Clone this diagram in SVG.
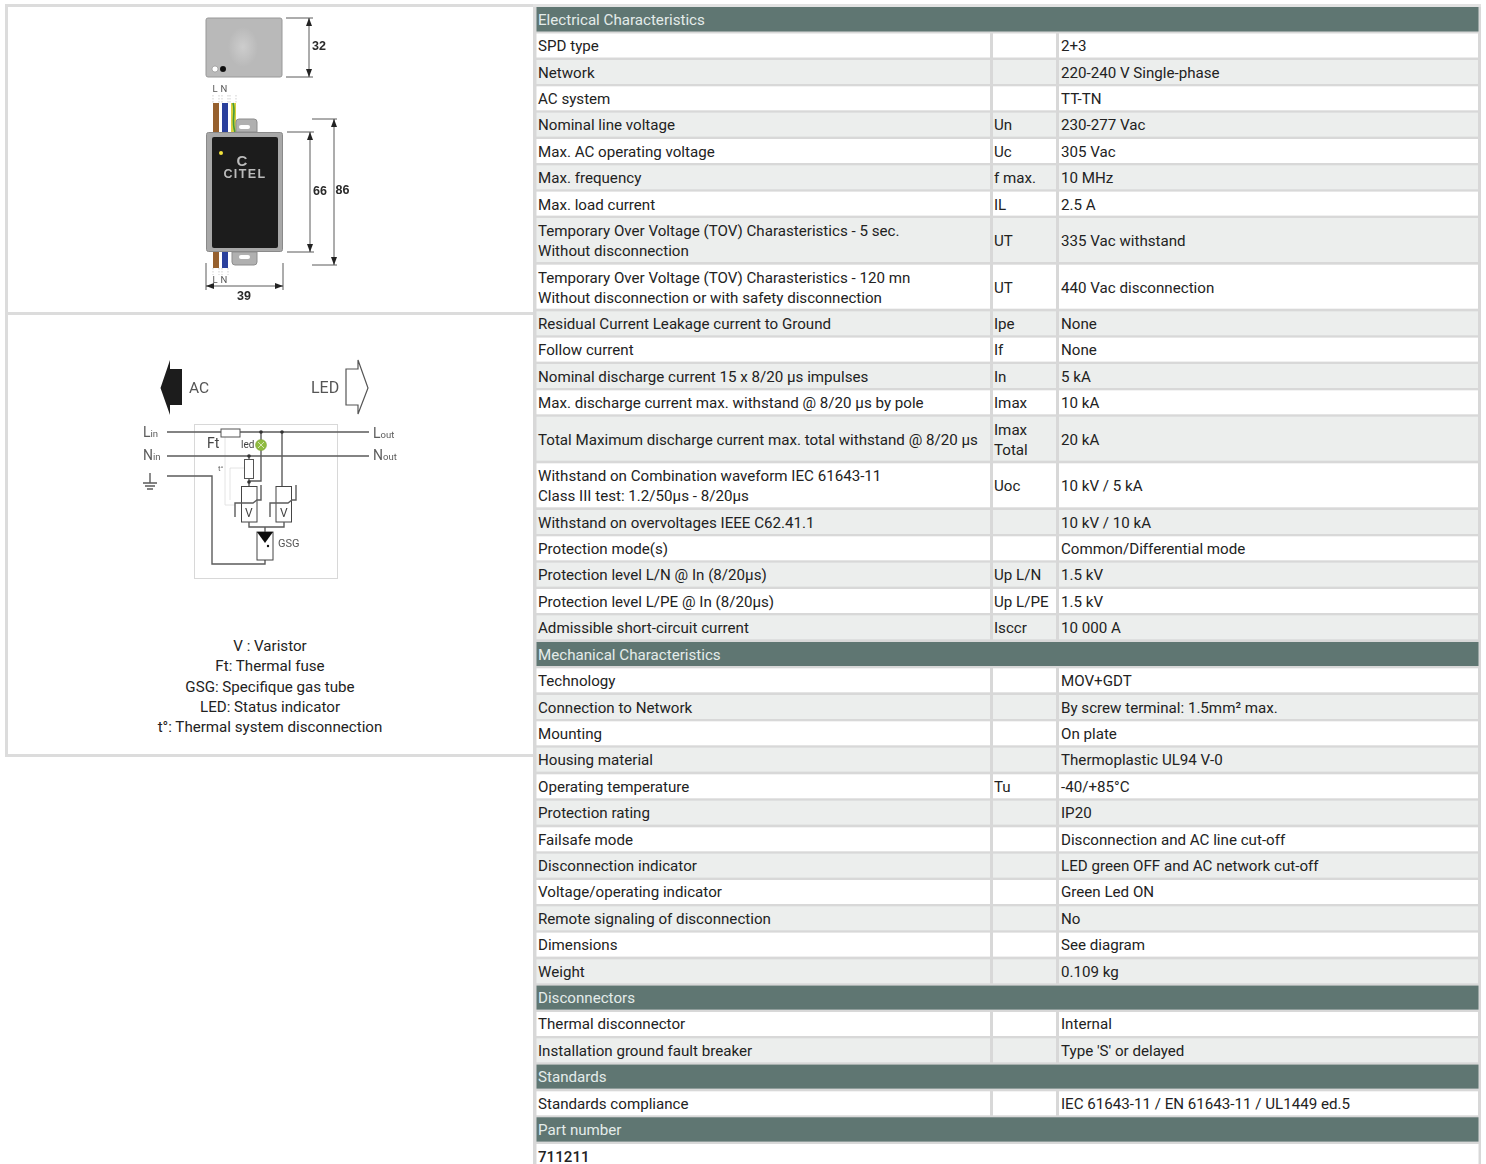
<svg xmlns="http://www.w3.org/2000/svg" width="1486" height="1164" viewBox="0 0 1486 1164">
<style>
text{font-family:Roboto,"Liberation Sans",sans-serif;font-size:15.14px;fill:#222}
.h{fill:#5f7672}.w{fill:#fff}.g{fill:#eceeed}
.ht{fill:#e4ecea}
.dim{font-family:"Liberation Sans",Arial,sans-serif;font-weight:700;font-size:12.5px;fill:#2a2a2a;text-anchor:middle}
.dl{stroke:#333;stroke-width:.8;fill:none}
.s{stroke:#5c5c5c;stroke-width:1.4;fill:none}
.f{fill:#333}
.lbl{font-size:14px;fill:#5c5c5c}
.sub{font-size:9.5px;fill:#5c5c5c}
.wl{font-size:9.5px;fill:#555;text-anchor:middle}
.lg{text-anchor:middle}
</style>
<defs>
<filter id="soft" x="-5%" y="-5%" width="110%" height="110%"><feGaussianBlur stdDeviation="0.45"/></filter>
<radialGradient id="glow"><stop offset="0" stop-color="#cdcdcd"/><stop offset="1" stop-color="#b9b9b9"/></radialGradient>
<marker id="ar" markerWidth="8" markerHeight="6" refX="8" refY="3" orient="auto-start-reverse" markerUnits="userSpaceOnUse"><path d="M0 0L8 3L0 6Z" fill="#222"/></marker>
</defs>
<rect width="1486" height="1164" fill="#fff"/>

<g id="panel-frame" fill="none" stroke="#dcdcdc" stroke-width="3">
<rect x="6.5" y="5.5" width="528" height="750"/>
<line x1="8" y1="313.5" x2="533" y2="313.5"/>
</g>

<g id="product-drawing" filter="url(#soft)">
<rect x="206" y="18" width="76" height="59" rx="2" fill="#b9b9b9" stroke="#989898"/>
<ellipse cx="243" cy="47" rx="15" ry="20" fill="url(#glow)"/>
<circle cx="215" cy="69" r="3" fill="#fff" stroke="#888" stroke-width=".6"/>
<circle cx="223" cy="69" r="3" fill="#111"/>
<path class="dl" d="M286 18H313M286 77H313"/>
<line class="dl" x1="309" y1="18" x2="309" y2="77" marker-start="url(#ar)" marker-end="url(#ar)"/>
<text class="dim" x="319" y="50">32</text>
<path d="M213 95V103M219 95V103M222 95V103M228 95V103M230 95V103M236 95V103" stroke="#bbb" stroke-width=".7" stroke-dasharray="1.5 1.5"/>
<rect x="213" y="103" width="6" height="29" fill="#96602e"/>
<rect x="222" y="103" width="6" height="29" fill="#2b3f9c"/>
<rect x="231" y="103" width="5" height="29" fill="#d8cf3c"/>
<path d="M233 103C236 112 231 120 235 132" stroke="#3f9b3a" stroke-width="1.6" fill="none"/>
<path d="M236 132V122Q236 119 239 119H254Q257 119 257 122V132Z" fill="#b0b0b0" stroke="#8d8d8d"/>
<rect x="239" y="125" width="11" height="4" rx="2" fill="#fff"/>
<path d="M232 252V262Q232 265 235 265H254Q257 265 257 262V252Z" fill="#b0b0b0" stroke="#8d8d8d"/>
<rect x="239" y="255" width="11" height="4" rx="2" fill="#fff"/>
<rect x="213" y="252" width="6" height="16" fill="#96602e"/>
<rect x="222" y="252" width="6" height="16" fill="#2b3f9c"/>
<path d="M213 268V275M219 268V275M222 268V275M228 268V275" stroke="#bbb" stroke-width=".7" stroke-dasharray="1.5 1.5"/>
<rect x="206.500" y="132.500" width="76" height="119" rx="2" fill="#a8a8a8" stroke="#8a8a8a"/>
<rect x="212" y="137" width="66" height="111" rx="2" fill="#1b1b1b"/>
<circle cx="221" cy="153" r="2" fill="#f2e23c"/>
<text x="242" y="166" text-anchor="middle" style="font-family:'Liberation Sans',sans-serif;font-weight:700;font-size:15px;fill:#bbb">C</text>
<text x="245" y="178" text-anchor="middle" style="font-family:'Liberation Sans',sans-serif;font-weight:700;font-size:12.5px;letter-spacing:1.4px;fill:#bbb">CITEL</text>
<text class="wl" x="215" y="91.500">L</text><text class="wl" x="224" y="91.500">N</text>
<text class="wl" x="215" y="282.500">L</text><text class="wl" x="224" y="282.500">N</text>
<path class="dl" d="M287 132H314M287 252H314M312 119H337M312 265H337M206 263V290M283 263V290"/>
<line class="dl" x1="310" y1="132" x2="310" y2="252" marker-start="url(#ar)" marker-end="url(#ar)"/>
<line class="dl" x1="334" y1="119" x2="334" y2="265" marker-start="url(#ar)" marker-end="url(#ar)"/>
<line class="dl" x1="206" y1="286" x2="283" y2="286" marker-start="url(#ar)" marker-end="url(#ar)"/>
<text class="dim" x="320" y="194.500">66</text>
<text class="dim" x="342.500" y="193.500">86</text>
<text class="dim" x="244" y="299.500">39</text>
</g>

<g id="schematic" filter="url(#soft)">
<path d="M160.500 388L170 360V369H182V405H170V415Z" fill="#1d1d1d"/>
<path d="M346 369H358V360L368 388L358 414V405H346Z" fill="#fff" stroke="#555" stroke-width="1.2"/>
<text x="189" y="393" style="font-size:15.5px;fill:#555">AC</text>
<text x="311" y="393" style="font-size:16px;fill:#555">LED</text>
<rect x="194.500" y="424.500" width="143" height="154" fill="none" stroke="#d8d8d8"/>
<path d="M225 437V505H235M230 468H244M230 468V500" fill="none" stroke="#ddd" stroke-width=".8"/>
<path class="s" d="M167 432H369M167 456H369M167 476H212V564H265V560"/>
<path class="s" d="M249 456V486M261 432V481H249M282 432V486"/>
<rect x="221" y="429" width="19" height="8" fill="#fff" stroke="#555"/>
<rect x="244.500" y="459.500" width="9" height="19" fill="#fff" stroke="#555"/>
<circle cx="261" cy="445" r="5.500" fill="#8fbc3f" stroke="#7a9c35" stroke-width=".5"/>
<path d="M258 442L264 448M264 442L258 448" stroke="#e8f0d0" stroke-width=".8"/>
<circle cx="261" cy="432" r="1.800" class="f"/><circle cx="282" cy="432" r="1.800" class="f"/>
<circle cx="249" cy="456" r="1.800" class="f"/><circle cx="249" cy="482" r="1.800" class="f"/>
<rect x="241.500" y="486.500" width="15.500" height="35.500" fill="none" stroke="#444"/>
<rect x="276" y="486.500" width="15.500" height="35.500" fill="none" stroke="#444"/>
<path class="s" d="M235 517V503H253L257 500H261V485M270 517V503H288L292 500H296V485"/>
<path class="s" d="M249 522V527H284V522M265 527V532"/>
<rect x="257" y="532" width="16" height="28" fill="#fff" stroke="#444"/>
<path d="M257 532H273L265 543Z" fill="#111"/>
<circle cx="268" cy="546" r="1.200" fill="#111"/>
<path class="s" d="M150 473V483M143 483H157M145 486H155M147 489H153"/>
<text x="245" y="517" style="font-size:12px;fill:#444">V</text>
<text x="280" y="517" style="font-size:12px;fill:#444">V</text>
<text x="278" y="547" style="font-size:11px;fill:#555">GSG</text>
<text x="207" y="448" style="font-size:14px;fill:#444">Ft</text>
<text x="241" y="448" style="font-size:10px;fill:#444">led</text>
<text x="218" y="471" style="font-size:8px;fill:#666">t°</text>
<text x="143" y="437" class="lbl">L<tspan class="sub">in</tspan></text>
<text x="143" y="460" class="lbl">N<tspan class="sub">in</tspan></text>
<text x="373" y="438" class="lbl">L<tspan class="sub">out</tspan></text>
<text x="373" y="460" class="lbl">N<tspan class="sub">out</tspan></text>
</g>

<g id="legend">
<text class="lg" x="270" y="651">V : Varistor</text>
<text class="lg" x="270" y="671">Ft: Thermal fuse</text>
<text class="lg" x="270" y="692">GSG: Specifique gas tube</text>
<text class="lg" x="270" y="712">LED: Status indicator</text>
<text class="lg" x="270" y="732">t°: Thermal system disconnection</text>
</g>

<g id="table">
<rect x="533" y="4" width="948" height="1160" fill="#d8d8d8"/>
<path d="M533 5.500H1481" stroke="#e2e2e2" stroke-width="3"/>
<g id="table-cells">
<rect class="h" x="536.500" y="7" width="942" height="24.500"/>
<rect class="w" x="536.500" y="33.500" width="453.500" height="24"/><rect class="w" x="993" y="33.500" width="63" height="24"/><rect class="w" x="1059" y="33.500" width="419" height="24"/>
<rect class="g" x="536.500" y="60" width="453.500" height="24"/><rect class="g" x="993" y="60" width="63" height="24"/><rect class="g" x="1059" y="60" width="419" height="24"/>
<rect class="w" x="536.500" y="86.300" width="453.500" height="24"/><rect class="w" x="993" y="86.300" width="63" height="24"/><rect class="w" x="1059" y="86.300" width="419" height="24"/>
<rect class="g" x="536.500" y="112.600" width="453.500" height="24"/><rect class="g" x="993" y="112.600" width="63" height="24"/><rect class="g" x="1059" y="112.600" width="419" height="24"/>
<rect class="w" x="536.500" y="139" width="453.500" height="24"/><rect class="w" x="993" y="139" width="63" height="24"/><rect class="w" x="1059" y="139" width="419" height="24"/>
<rect class="g" x="536.500" y="165.300" width="453.500" height="24"/><rect class="g" x="993" y="165.300" width="63" height="24"/><rect class="g" x="1059" y="165.300" width="419" height="24"/>
<rect class="w" x="536.500" y="191.600" width="453.500" height="24"/><rect class="w" x="993" y="191.600" width="63" height="24"/><rect class="w" x="1059" y="191.600" width="419" height="24"/>
<rect class="g" x="536.500" y="218" width="453.500" height="44"/><rect class="g" x="993" y="218" width="63" height="44"/><rect class="g" x="1059" y="218" width="419" height="44"/>
<rect class="w" x="536.500" y="264.700" width="453.500" height="44"/><rect class="w" x="993" y="264.700" width="63" height="44"/><rect class="w" x="1059" y="264.700" width="419" height="44"/>
<rect class="g" x="536.500" y="311.300" width="453.500" height="24"/><rect class="g" x="993" y="311.300" width="63" height="24"/><rect class="g" x="1059" y="311.300" width="419" height="24"/>
<rect class="w" x="536.500" y="337.600" width="453.500" height="24"/><rect class="w" x="993" y="337.600" width="63" height="24"/><rect class="w" x="1059" y="337.600" width="419" height="24"/>
<rect class="g" x="536.500" y="364" width="453.500" height="24"/><rect class="g" x="993" y="364" width="63" height="24"/><rect class="g" x="1059" y="364" width="419" height="24"/>
<rect class="w" x="536.500" y="390.300" width="453.500" height="24"/><rect class="w" x="993" y="390.300" width="63" height="24"/><rect class="w" x="1059" y="390.300" width="419" height="24"/>
<rect class="g" x="536.500" y="416.700" width="453.500" height="44"/><rect class="g" x="993" y="416.700" width="63" height="44"/><rect class="g" x="1059" y="416.700" width="419" height="44"/>
<rect class="w" x="536.500" y="463.300" width="453.500" height="44"/><rect class="w" x="993" y="463.300" width="63" height="44"/><rect class="w" x="1059" y="463.300" width="419" height="44"/>
<rect class="g" x="536.500" y="510" width="453.500" height="24"/><rect class="g" x="993" y="510" width="63" height="24"/><rect class="g" x="1059" y="510" width="419" height="24"/>
<rect class="w" x="536.500" y="536.300" width="453.500" height="24"/><rect class="w" x="993" y="536.300" width="63" height="24"/><rect class="w" x="1059" y="536.300" width="419" height="24"/>
<rect class="g" x="536.500" y="562.600" width="453.500" height="24"/><rect class="g" x="993" y="562.600" width="63" height="24"/><rect class="g" x="1059" y="562.600" width="419" height="24"/>
<rect class="w" x="536.500" y="589" width="453.500" height="24"/><rect class="w" x="993" y="589" width="63" height="24"/><rect class="w" x="1059" y="589" width="419" height="24"/>
<rect class="g" x="536.500" y="615.300" width="453.500" height="24"/><rect class="g" x="993" y="615.300" width="63" height="24"/><rect class="g" x="1059" y="615.300" width="419" height="24"/>
<rect class="h" x="536.500" y="642" width="942" height="24"/>
<rect class="w" x="536.500" y="668.300" width="453.500" height="24"/><rect class="w" x="993" y="668.300" width="63" height="24"/><rect class="w" x="1059" y="668.300" width="419" height="24"/>
<rect class="g" x="536.500" y="695" width="453.500" height="24"/><rect class="g" x="993" y="695" width="63" height="24"/><rect class="g" x="1059" y="695" width="419" height="24"/>
<rect class="w" x="536.500" y="721.300" width="453.500" height="24"/><rect class="w" x="993" y="721.300" width="63" height="24"/><rect class="w" x="1059" y="721.300" width="419" height="24"/>
<rect class="g" x="536.500" y="747.600" width="453.500" height="24"/><rect class="g" x="993" y="747.600" width="63" height="24"/><rect class="g" x="1059" y="747.600" width="419" height="24"/>
<rect class="w" x="536.500" y="774.300" width="453.500" height="24"/><rect class="w" x="993" y="774.300" width="63" height="24"/><rect class="w" x="1059" y="774.300" width="419" height="24"/>
<rect class="g" x="536.500" y="800.600" width="453.500" height="24"/><rect class="g" x="993" y="800.600" width="63" height="24"/><rect class="g" x="1059" y="800.600" width="419" height="24"/>
<rect class="w" x="536.500" y="827.300" width="453.500" height="24"/><rect class="w" x="993" y="827.300" width="63" height="24"/><rect class="w" x="1059" y="827.300" width="419" height="24"/>
<rect class="g" x="536.500" y="853.600" width="453.500" height="24"/><rect class="g" x="993" y="853.600" width="63" height="24"/><rect class="g" x="1059" y="853.600" width="419" height="24"/>
<rect class="w" x="536.500" y="880" width="453.500" height="24"/><rect class="w" x="993" y="880" width="63" height="24"/><rect class="w" x="1059" y="880" width="419" height="24"/>
<rect class="g" x="536.500" y="906.300" width="453.500" height="24"/><rect class="g" x="993" y="906.300" width="63" height="24"/><rect class="g" x="1059" y="906.300" width="419" height="24"/>
<rect class="w" x="536.500" y="932.600" width="453.500" height="24"/><rect class="w" x="993" y="932.600" width="63" height="24"/><rect class="w" x="1059" y="932.600" width="419" height="24"/>
<rect class="g" x="536.500" y="959.300" width="453.500" height="24"/><rect class="g" x="993" y="959.300" width="63" height="24"/><rect class="g" x="1059" y="959.300" width="419" height="24"/>
<rect class="h" x="536.500" y="985.600" width="942" height="24"/>
<rect class="w" x="536.500" y="1012" width="453.500" height="24"/><rect class="w" x="993" y="1012" width="63" height="24"/><rect class="w" x="1059" y="1012" width="419" height="24"/>
<rect class="g" x="536.500" y="1038.300" width="453.500" height="24"/><rect class="g" x="993" y="1038.300" width="63" height="24"/><rect class="g" x="1059" y="1038.300" width="419" height="24"/>
<rect class="h" x="536.500" y="1064.600" width="942" height="24"/>
<rect class="w" x="536.500" y="1091.300" width="453.500" height="24"/><rect class="w" x="993" y="1091.300" width="63" height="24"/><rect class="w" x="1059" y="1091.300" width="419" height="24"/>
<rect class="h" x="536.500" y="1117.300" width="942" height="24.300"/>
<rect class="w" x="536.500" y="1144" width="942" height="20"/>
</g>
<g id="table-text">
<text class="ht" x="538" y="25">Electrical Characteristics</text>
<text x="538" y="51">SPD type</text><text x="1061" y="51">2+3</text>
<text x="538" y="78">Network</text><text x="1061" y="78">220-240 V Single-phase</text>
<text x="538" y="104">AC system</text><text x="1061" y="104">TT-TN</text>
<text x="538" y="130">Nominal line voltage</text><text x="994" y="130">Un</text><text x="1061" y="130">230-277 Vac</text>
<text x="538" y="157">Max. AC operating voltage</text><text x="994" y="157">Uc</text><text x="1061" y="157">305 Vac</text>
<text x="538" y="183">Max. frequency</text><text x="994" y="183">f max.</text><text x="1061" y="183">10 MHz</text>
<text x="538" y="210">Max. load current</text><text x="994" y="210">IL</text><text x="1061" y="210">2.5 A</text>
<text x="538" y="236">Temporary Over Voltage (TOV) Charasteristics - 5 sec.</text><text x="538" y="256">Without disconnection</text><text x="994" y="246">UT</text><text x="1061" y="246">335 Vac withstand</text>
<text x="538" y="283">Temporary Over Voltage (TOV) Charasteristics - 120 mn</text><text x="538" y="303">Without disconnection or with safety disconnection</text><text x="994" y="293">UT</text><text x="1061" y="293">440 Vac disconnection</text>
<text x="538" y="329">Residual Current Leakage current to Ground</text><text x="994" y="329">Ipe</text><text x="1061" y="329">None</text>
<text x="538" y="355">Follow current</text><text x="994" y="355">If</text><text x="1061" y="355">None</text>
<text x="538" y="382">Nominal discharge current 15 x 8/20 µs impulses</text><text x="994" y="382">In</text><text x="1061" y="382">5 kA</text>
<text x="538" y="408">Max. discharge current max. withstand @ 8/20 µs by pole</text><text x="994" y="408">Imax</text><text x="1061" y="408">10 kA</text>
<text x="538" y="445">Total Maximum discharge current max. total withstand @ 8/20 µs</text><text x="994" y="435">Imax</text><text x="994" y="455">Total</text><text x="1061" y="445">20 kA</text>
<text x="538" y="481">Withstand on Combination waveform IEC 61643-11</text><text x="538" y="501">Class III test: 1.2/50µs - 8/20µs</text><text x="994" y="491">Uoc</text><text x="1061" y="491">10 kV / 5 kA</text>
<text x="538" y="528">Withstand on overvoltages IEEE C62.41.1</text><text x="1061" y="528">10 kV / 10 kA</text>
<text x="538" y="554">Protection mode(s)</text><text x="1061" y="554">Common/Differential mode</text>
<text x="538" y="580">Protection level L/N @ In (8/20µs)</text><text x="994" y="580">Up L/N</text><text x="1061" y="580">1.5 kV</text>
<text x="538" y="607">Protection level L/PE @ In (8/20µs)</text><text x="994" y="607">Up L/PE</text><text x="1061" y="607">1.5 kV</text>
<text x="538" y="633">Admissible short-circuit current</text><text x="994" y="633">Isccr</text><text x="1061" y="633">10 000 A</text>
<text class="ht" x="538" y="660">Mechanical Characteristics</text>
<text x="538" y="686">Technology</text><text x="1061" y="686">MOV+GDT</text>
<text x="538" y="713">Connection to Network</text><text x="1061" y="713">By screw terminal: 1.5mm² max.</text>
<text x="538" y="739">Mounting</text><text x="1061" y="739">On plate</text>
<text x="538" y="765">Housing material</text><text x="1061" y="765">Thermoplastic UL94 V-0</text>
<text x="538" y="792">Operating temperature</text><text x="994" y="792">Tu</text><text x="1061" y="792">-40/+85°C</text>
<text x="538" y="818">Protection rating</text><text x="1061" y="818">IP20</text>
<text x="538" y="845">Failsafe mode</text><text x="1061" y="845">Disconnection and AC line cut-off</text>
<text x="538" y="871">Disconnection indicator</text><text x="1061" y="871">LED green OFF and AC network cut-off</text>
<text x="538" y="897">Voltage/operating indicator</text><text x="1061" y="897">Green Led ON</text>
<text x="538" y="924">Remote signaling of disconnection</text><text x="1061" y="924">No</text>
<text x="538" y="950">Dimensions</text><text x="1061" y="950">See diagram</text>
<text x="538" y="977">Weight</text><text x="1061" y="977">0.109 kg</text>
<text class="ht" x="538" y="1003">Disconnectors</text>
<text x="538" y="1029">Thermal disconnector</text><text x="1061" y="1029">Internal</text>
<text x="538" y="1056">Installation ground fault breaker</text><text x="1061" y="1056">Type 'S' or delayed</text>
<text class="ht" x="538" y="1082">Standards</text>
<text x="538" y="1109">Standards compliance</text><text x="1061" y="1109">IEC 61643-11 / EN 61643-11 / UL1449 ed.5</text>
<text class="ht" x="538" y="1135">Part number</text>
<text x="538" y="1162" style="font-weight:500">711211</text>
</g>
</g>
</svg>
